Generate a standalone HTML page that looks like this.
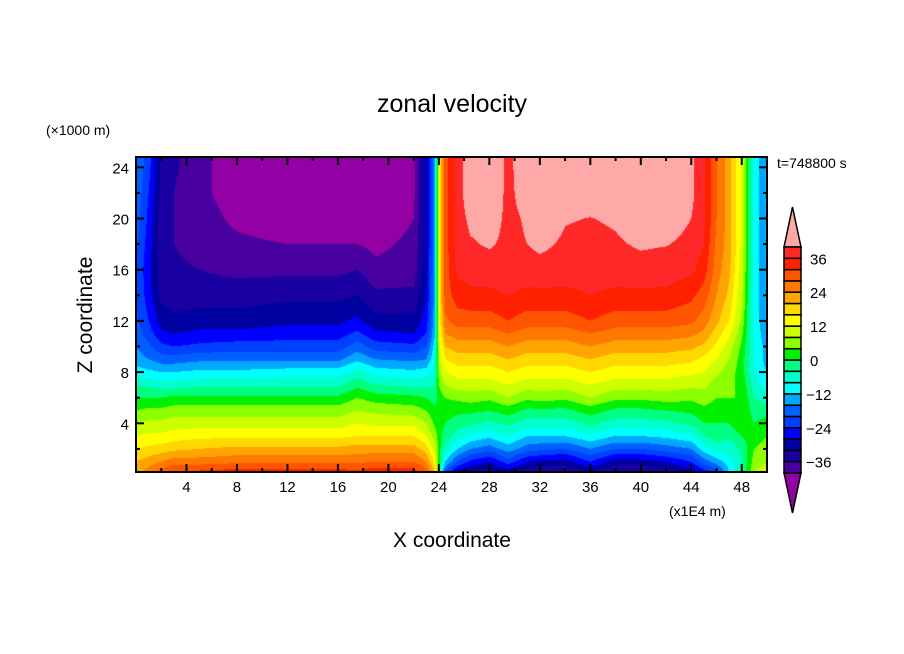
<!DOCTYPE html>
<html>
<head>
<meta charset="utf-8">
<style>
html,body{margin:0;padding:0;background:#fff;}
#wrap{position:relative;width:904px;height:654px;overflow:hidden;font-family:"Liberation Sans",sans-serif;}
#field{position:absolute;left:136px;top:157px;}
svg{position:absolute;left:0;top:0;}
</style>
</head>
<body>
<div id="wrap">
<canvas id="field" width="631" height="315"></canvas>
<svg id="ov" width="904" height="654">
  <text x="452" y="112" text-anchor="middle" font-size="25" font-family="Liberation Sans, sans-serif">zonal velocity</text>
  <text x="46" y="135" font-size="14" font-family="Liberation Sans, sans-serif">(×1000 m)</text>
  <text x="777" y="168" font-size="14" font-family="Liberation Sans, sans-serif">t=748800 s</text>
  <text x="669" y="516" font-size="14" font-family="Liberation Sans, sans-serif">(x1E4 m)</text>
  <text x="452" y="547" text-anchor="middle" font-size="21" font-family="Liberation Sans, sans-serif">X coordinate</text>
  <text x="0" y="0" transform="translate(92,315) rotate(-90)" text-anchor="middle" font-size="21" font-family="Liberation Sans, sans-serif">Z coordinate</text>
  <g id="axes"></g>
  <g id="cbar"></g>
</svg>
</div>
<script>
// ---- data ----
var xs = [0,1,2,3,5,8,12,16,17.5,19,22,23,23.7,24.0,24.5,25.5,26.5,28,29.5,31,32,34,36,38,40,42,44,45,46,47,48,49,50];
var zs = [0.2,1,2,3,4,5,6,7,8,9,10,11,12,14,16,18,20,22,24.8];
var vals = [
 [22,20,16,12,8,4,0,-4,-10,-14,-16,-18,-19,-20,-20,-19,-18,-17,-16],
 [26,22,17,13,9,5,0,-5,-11,-16,-19,-22,-24,-26,-27,-26,-25,-24,-22],
 [30,24,18,13,9,5,0,-6,-12,-18,-23,-27,-30,-33,-34,-34,-34,-33,-33],
 [32,26,19,14,10,6,1,-6,-12,-18,-24,-28,-31,-34,-35,-36,-36,-36,-35],
 [33,26,20,15,10,6,1,-5,-11,-17,-23,-27,-30,-34,-36,-38,-38,-39,-39],
 [34,27,21,15,10,6,1,-5,-11,-17,-22,-27,-30,-34,-37,-39,-41,-42,-42],
 [34,27,21,15,10,6,1,-5,-10,-17,-22,-26,-29,-33,-37,-40,-43,-44,-44],
 [34,27,21,15,10,6,1,-5,-10,-17,-22,-26,-29,-33,-37,-40,-43,-44,-44],
 [33,27,22,16,12,8,4,-1,-6,-13,-18,-23,-27,-32,-36,-40,-43,-44,-44],
 [35,28,22,16,11,7,2,-4,-10,-16,-22,-27,-31,-35,-39,-41,-43,-44,-44],
 [34,28,22,16,11,6,1,-5,-11,-17,-23,-28,-31,-35,-38,-39,-40,-41,-41],
 [30,24,18,12,8,4,0,-5,-10,-16,-20,-24,-26,-28,-29,-30,-30,-30,-30],
 [20,14,10,6,3,1,-2,-4,-6,-8,-10,-12,-13,-14,-14,-14,-14,-14,-14],
 [0,2,2,2,2,2,2,4,6,8,10,12,13,14,14,14,14,14,14],
 [-20,-12,-6,-2,0,2,4,8,12,16,20,24,27,30,30,30,30,30,30],
 [-30,-20,-12,-6,-2,1,5,10,14,18,22,26,30,34,37,38,38,38,38],
 [-33,-25,-16,-9,-3,1,6,10,14,18,22,26,30,35,38,39.5,41,43,43],
 [-34,-28,-18,-11,-5,0,5,10,14,18,22,26,30,35,38,40.5,42,43,44],
 [-30,-22,-14,-8,-3,2,8,12,16,20,24,28,32,36,39,39,39,39,39],
 [-34,-28,-18,-12,-6,-1,5,10,14,18,22,26,30,35,38,40,40.5,42,43],
 [-35,-29,-19,-12,-6,-1,6,10,14,18,22,26,30,35,38.5,41,43,44,44],
 [-36,-30,-20,-12,-6,-1,5,10,14,18,22,26,30,35,38,39.3,40.3,43,44],
 [-32,-24,-16,-9,-3,2,8,12,16,20,24,28,32,36,38,38.8,39.9,42,44],
 [-36,-30,-20,-12,-6,-1,5,10,14,18,22,26,30,35,38,39.5,40.5,43,44],
 [-36,-30,-20,-12,-6,-1,5,10,14,18,22,26,30,35,38.6,40.5,42,44,44],
 [-34,-28,-18,-11,-5,0,6,10,14,18,22,26,30,35,38,40.2,42,44,44],
 [-30,-24,-16,-9,-3,1,5,9,13,17,21,25,29,33,37,39,40,41,41],
 [-26,-18,-10,-4,0,3,6,9,12,15,19,23,26,30,34,36,37,37,37],
 [-22,-14,-6,-2,0,2,4,6,9,12,15,18,21,24,26,27,28,28,28],
 [-12,-10,-7,-3,0,2,4,5,6,8,10,13,16,19,21,22,22,22,22],
 [-4,-4,-3,0,3,4,4,3,2,2,3,5,7,9,10,11,11,11,11],
 [8,6,4,2,0,-2,-4,-6,-8,-8,-8,-9,-10,-10,-10,-10,-10,-10,-10],
 [10,8,6,4,2,-2,-6,-10,-12,-14,-14,-15,-15,-16,-16,-16,-16,-16,-16]
];
var levels = [-40,-36,-32,-28,-24,-20,-16,-12,-8,-4,0,4,8,12,16,20,24,28,32,36,40];
var colors = ["#9300a3","#4800a0","#1a00a0","#0000a0","#0000ff","#0040ff","#0060ff","#00a8ff","#00ffff","#00ffcc","#00ff80","#00f000","#8cff00","#ccff00","#ffff00","#ffd800","#ffa400","#ff7800","#ff5400","#ff2000","#ff2828","#ffa8a8"];
var cbLabels = [36,24,12,0,-12,-24,-36];
var xTicks = [4,8,12,16,20,24,28,32,36,40,44,48];
var zTicks = [4,8,12,16,20,24];

// ---- geometry ----
var L=136,R=767,T=157,B=472;
function X(x){return L + x*(R-L)/50;}
function Z(z){return 474.5 - 12.8*z;}
function seg(arr,v){var i=0;while(i<arr.length-2&&v>arr[i+1])i++;return i;}
function val(x,z){
  var i=seg(xs,x), j=seg(zs,z);
  var tx=(x-xs[i])/(xs[i+1]-xs[i]), tz=(z-zs[j])/(zs[j+1]-zs[j]);
  tx=Math.max(0,Math.min(1,tx)); tz=Math.max(0,Math.min(1,tz));
  var a=vals[i][j],b=vals[i+1][j],c=vals[i][j+1],d=vals[i+1][j+1];
  return (a*(1-tx)+b*tx)*(1-tz)+(c*(1-tx)+d*tx)*tz;
}
function rgb(h){return [parseInt(h.substr(1,2),16),parseInt(h.substr(3,2),16),parseInt(h.substr(5,2),16)];}
var rgbs=colors.map(rgb);
(function(){
  var cv=document.getElementById('field'),ctx=cv.getContext('2d');
  var W=cv.width,H=cv.height,img=ctx.createImageData(W,H);
  for(var py=0;py<H;py++){
    var z=(474.5-(T+py+0.5))/12.8;
    for(var px=0;px<W;px++){
      var x=(px+0.5)*50/W;
      var v=val(x,z),k=0;
      while(k<levels.length&&v>=levels[k])k++;
      var c=rgbs[k],o=(py*W+px)*4;
      img.data[o]=c[0];img.data[o+1]=c[1];img.data[o+2]=c[2];img.data[o+3]=255;
    }
  }
  ctx.putImageData(img,0,0);
})();

var NS="http://www.w3.org/2000/svg";
function mk(tag,attrs,parent){var e=document.createElementNS(NS,tag);for(var k in attrs)e.setAttribute(k,attrs[k]);parent.appendChild(e);return e;}
var ax=document.getElementById('axes');
var fr=mk('rect',{x:L,y:T,width:R-L,height:B-T,fill:'none',stroke:'#000','stroke-width':2},ax);


for(var t=2;t<50;t+=2){
  var major=(t%4===0),len=major?8:4,px=X(t);
  var l1=mk('line',{x1:px,y1:B,x2:px,y2:B-len,stroke:'#000','stroke-width':2},ax);
  
  
  var l2=mk('line',{x1:px,y1:T,x2:px,y2:T+len,stroke:'#000','stroke-width':2},ax);
  
  
}
xTicks.forEach(function(t){
  var e=mk('text',{x:X(t),y:B+20,'text-anchor':'middle','font-size':15},ax);
  e.textContent=t;
  
  
});
for(var t=2;t<=24;t+=2){
  var major=(t%4===0),len=major?8:4,py=Z(t);
  var l1=mk('line',{x1:L,y1:py,x2:L+len,y2:py,stroke:'#000','stroke-width':2},ax);
  
  
  var l2=mk('line',{x1:R,y1:py,x2:R-len,y2:py,stroke:'#000','stroke-width':2},ax);
  
  
}
zTicks.forEach(function(t){
  var e=mk('text',{x:L-7,y:Z(t)+6,'text-anchor':'end','font-size':15},ax);
  e.textContent=t;
  
  
});
var cb=document.getElementById('cbar');
var cx0=784,cx1=801,ctop=247,cbot=473,n=levels.length-1,bh=(cbot-ctop)/n;
var triT=mk('polygon',{points:cx0+','+ctop+' '+cx1+','+ctop+' '+((cx0+cx1)/2)+',207',fill:colors[colors.length-1],stroke:'#000','stroke-width':1.5},cb);


var triB=mk('polygon',{points:cx0+','+cbot+' '+cx1+','+cbot+' '+((cx0+cx1)/2)+',513',fill:colors[0],stroke:'#000','stroke-width':1.5},cb);


for(var k=1;k<=n;k++){
  var y=cbot-k*bh;
  var r=mk('rect',{x:cx0,y:y,width:cx1-cx0,height:bh,fill:colors[k],stroke:'#000','stroke-width':1.5},cb);
  
  
}
cbLabels.forEach(function(v){
  var idx=levels.indexOf(v);
  var y=cbot-idx*bh;
  var e=mk('text',{x:v<0?806:810,y:y+6,'font-size':15},cb);
  e.textContent=v<0?'\u2212'+(-v):String(v);
  
  
});
</script>
</body>
</html>
